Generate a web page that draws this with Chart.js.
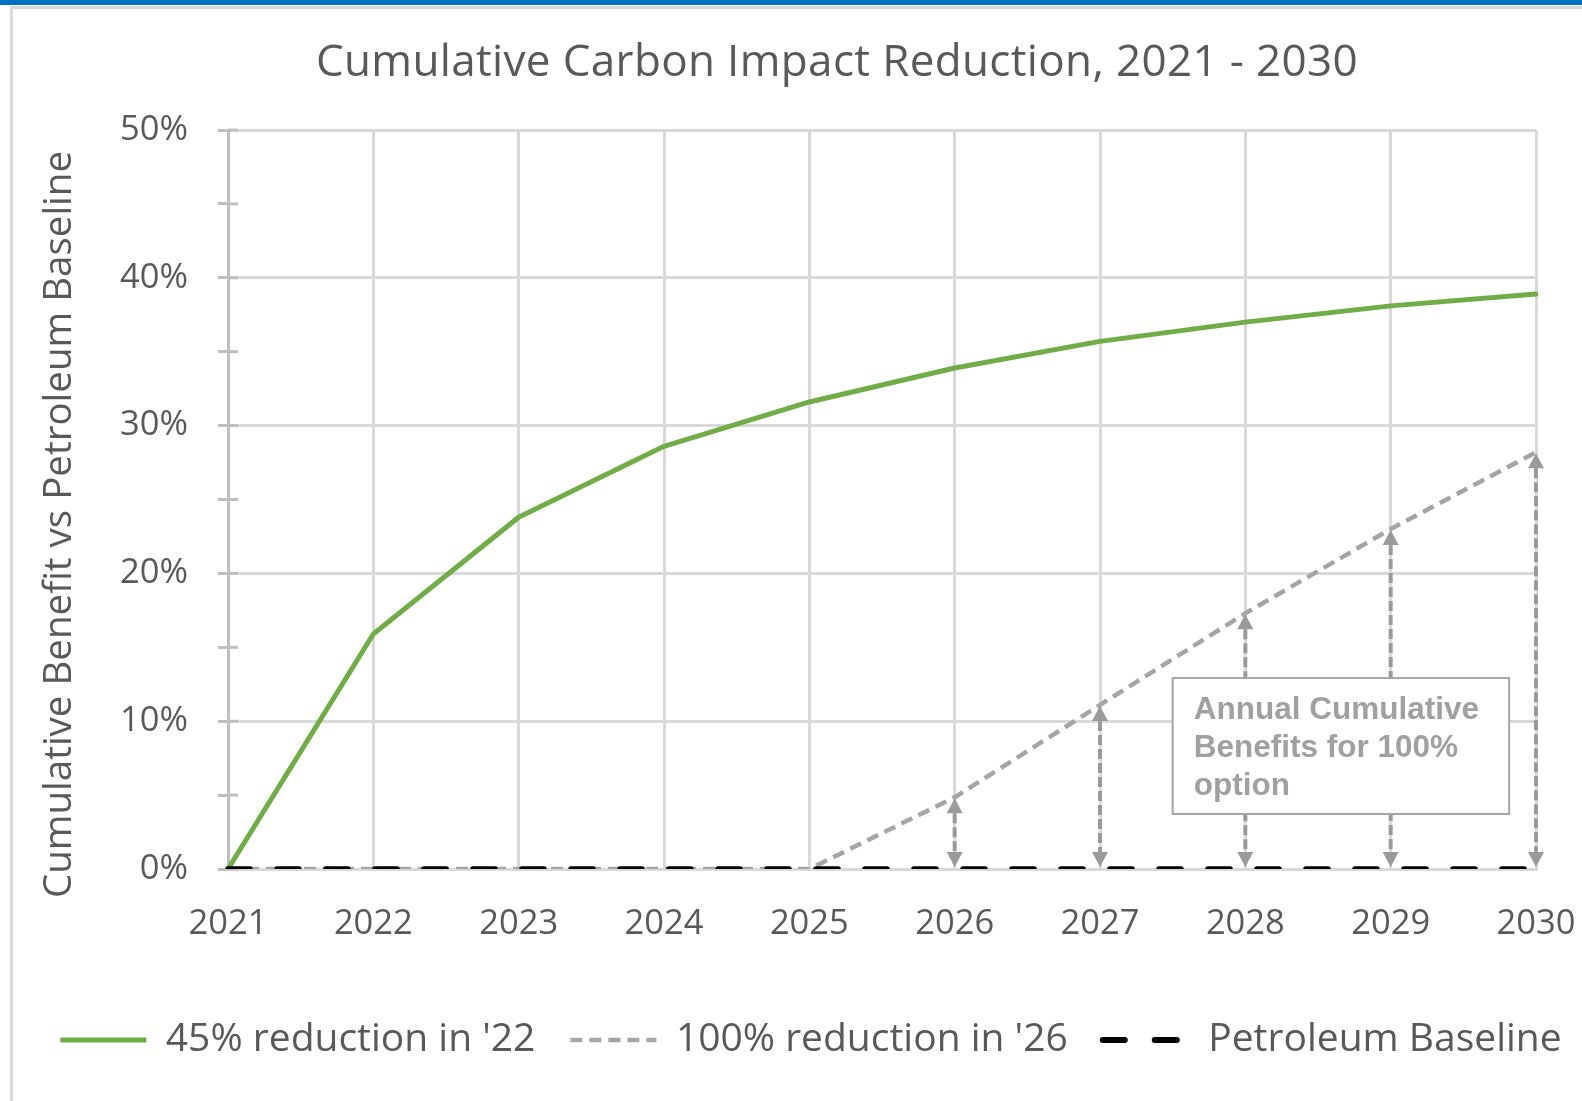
<!DOCTYPE html>
<html><head><meta charset="utf-8">
<script src="https://cdn.jsdelivr.net/npm/chart.js@4.4.1/dist/chart.umd.min.js"></script>
<style>
html,body{margin:0;padding:0;background:#fff;width:1582px;height:1101px;overflow:hidden;}
#topbar{position:absolute;left:0;top:0;width:1582px;height:5px;background:#0070C0;}
#frame{position:absolute;left:10px;top:6px;right:-10px;bottom:-10px;border-left:3px solid #d9d9d9;border-top:3px solid #d9d9d9;}
canvas{position:absolute;left:0;top:0;}
</style></head><body>
<div id="topbar"></div><div id="frame"></div>
<canvas id="c" width="1582" height="1101"></canvas>
<script>
// ---- data ----
const years = ['2021','2022','2023','2024','2025','2026','2027','2028','2029','2030'];
const reduction45 = [0, 15.9, 23.8, 28.6, 31.6, 33.9, 35.7, 37.0, 38.1, 38.9];
const reduction100 = [0, 0, 0, 0, 0, 4.85, 11.1, 17.3, 23.0, 28.2];
const petroleumBaseline = [0, 0, 0, 0, 0, 0, 0, 0, 0, 0];
const seriesNames = ["45% reduction in '22", "100% reduction in '26", "Petroleum Baseline"];
const yTickLabels = ['0%', '10%', '20%', '30%', '40%', '50%'];
const chartTitle = 'Cumulative Carbon Impact Reduction, 2021 - 2030';
const yAxisTitle = 'Cumulative Benefit vs Petroleum Baseline';
const noteLines = ['Annual Cumulative', 'Benefits for 100%', 'option'];

// ---- styles ----
const GREEN = '#70AD47', GRAY = '#A5A5A5', BLACK = '#000000', TEXT = '#595959';
const GRID = '#D9D9D9', AXIS = '#BFBFBF', ARROW = '#9A9A9A', NOTE = '#A0A0A0';
const FONT = "'Open Sans', 'DejaVu Sans', sans-serif";

function shiftBox(box, dx, spacing) {
  if (!box || box._wrapped) return;
  const orig = box.draw;
  box.draw = function () {
    const ctx = this.ctx;
    ctx.save();
    if (spacing) ctx.letterSpacing = spacing;
    ctx.translate(dx(this), 0);
    orig.apply(this, arguments);
    ctx.restore();
  };
  box._wrapped = true;
}

const boxFix = {
  id: 'boxFix',
  beforeDraw(chart) {
    shiftBox(chart.titleBlock, b => 837 - (b.left + b.right) / 2, '0.35px');
    shiftBox(chart.legend, () => 20, null);
  }
};

const innerTicks = {
  id: 'innerTicks',
  beforeDatasetsDraw(chart) {
    const ys = chart.scales.y, ctx = chart.ctx, x0 = chart.chartArea.left;
    ctx.save();
    ctx.strokeStyle = AXIS; ctx.lineWidth = 3;
    ys.ticks.forEach(t => {
      const py = ys.getPixelForValue(t.value);
      ctx.beginPath(); ctx.moveTo(x0, py); ctx.lineTo(x0 + 10, py); ctx.stroke();
    });
    ctx.restore();
  }
};

const arrowsAndNote = {
  id: 'arrowsAndNote',
  afterDatasetsDraw(chart) {
    const xs = chart.scales.x, ys = chart.scales.y, ctx = chart.ctx;
    ctx.save();
    reduction100.forEach((v, i) => {
      if (v <= 0) return;
      const px = xs.getPixelForValue(i);
      const yBot = ys.getPixelForValue(0) - 2;
      const yTop = ys.getPixelForValue(v) + 1;
      const head = 15, hw = 8;
      ctx.setLineDash([10, 4]); ctx.lineWidth = 4; ctx.strokeStyle = ARROW;
      ctx.beginPath(); ctx.moveTo(px, yTop + head); ctx.lineTo(px, yBot - head); ctx.stroke();
      ctx.setLineDash([]); ctx.fillStyle = ARROW;
      ctx.beginPath(); ctx.moveTo(px, yTop); ctx.lineTo(px - hw, yTop + head); ctx.lineTo(px + hw, yTop + head); ctx.closePath(); ctx.fill();
      ctx.beginPath(); ctx.moveTo(px, yBot); ctx.lineTo(px - hw, yBot - head); ctx.lineTo(px + hw, yBot - head); ctx.closePath(); ctx.fill();
    });
    const bx0 = xs.getPixelForValue(6.5), bx1 = xs.getPixelForValue(8.815);
    const by0 = ys.getPixelForValue(12.92), by1 = ys.getPixelForValue(3.72);
    ctx.fillStyle = '#FFFFFF';
    ctx.fillRect(bx0, by0, bx1 - bx0, by1 - by0);
    ctx.strokeStyle = '#A6A6A6'; ctx.lineWidth = 2;
    ctx.strokeRect(bx0, by0, bx1 - bx0, by1 - by0);
    ctx.font = "bold 31.5px 'Liberation Sans', Arial, sans-serif";
    ctx.fillStyle = NOTE; ctx.textAlign = 'left'; ctx.textBaseline = 'alphabetic';
    noteLines.forEach((t, k) => ctx.fillText(t, bx0 + 21, by0 + 41 + k * 38));
    ctx.restore();
  }
};

const yTitle = {
  id: 'yTitle',
  afterDraw(chart) {
    const ctx = chart.ctx, ca = chart.chartArea;
    ctx.save();
    ctx.translate(60, (ca.top + ca.bottom) / 2 + 25);
    ctx.rotate(-Math.PI / 2);
    ctx.font = "38.5px " + FONT;
    ctx.fillStyle = TEXT; ctx.textAlign = 'center'; ctx.textBaseline = 'middle';
    ctx.fillText(yAxisTitle, 0, 0);
    ctx.restore();
  }
};

new Chart(document.getElementById('c'), {
  type: 'line',
  data: {
    labels: years,
    datasets: [
      { label: seriesNames[0], data: reduction45, borderColor: GREEN, backgroundColor: GREEN, borderWidth: 5,
        borderCapStyle: 'round', borderJoinStyle: 'round', order: 2, yAxisID: 'y' },
      { label: seriesNames[1], data: reduction100, borderColor: GRAY, backgroundColor: GRAY, borderWidth: 4.5,
        borderDash: [12, 7], order: 3, yAxisID: 'y' },
      { label: seriesNames[2], data: petroleumBaseline, borderColor: BLACK, backgroundColor: BLACK, borderWidth: 5.5,
        borderDash: [22, 27], borderCapStyle: 'round', order: 1, yAxisID: 'y' }
    ]
  },
  options: {
    responsive: false, devicePixelRatio: 1, animation: false,
    elements: { point: { radius: 0, hoverRadius: 0 }, line: { tension: 0, fill: false } },
    layout: { padding: { left: 0, right: 0, top: 0, bottom: 31.5 } },
    plugins: {
      tooltip: { enabled: false },
      title: { display: true, text: chartTitle, color: TEXT, font: { family: FONT, size: 44, weight: 'normal', lineHeight: 1.2 },
        padding: { top: 37, bottom: 40.2 } },
      legend: {
        position: 'bottom',
        labels: {
          color: TEXT, font: { family: FONT, size: 39 }, padding: 35,
          usePointStyle: true, pointStyleWidth: 86, boxHeight: 10,
          generateLabels: () => [
            { text: seriesNames[0], strokeStyle: GREEN, fillStyle: GREEN, lineWidth: 5, lineDash: [], pointStyle: 'line', fontColor: TEXT, hidden: false, datasetIndex: 0 },
            { text: seriesNames[1], strokeStyle: GRAY, fillStyle: GRAY, lineWidth: 4.5, lineDash: [12, 7], pointStyle: 'line', fontColor: TEXT, hidden: false, datasetIndex: 1 },
            { text: seriesNames[2], strokeStyle: BLACK, fillStyle: BLACK, lineWidth: 6, lineDash: [22, 30], lineCap: 'round', pointStyle: 'line', fontColor: TEXT, hidden: false, datasetIndex: 2 }
          ]
        }
      }
    },
    scales: {
      x: {
        type: 'category', offset: false,
        grid: { color: GRID, lineWidth: 3, drawTicks: true, tickLength: 29, tickColor: 'rgba(0,0,0,0)' },
        border: { color: GRID, width: 3 },
        ticks: { color: TEXT, font: { family: FONT, size: 34.5 }, padding: 5, maxRotation: 0, autoSkip: false },
        afterFit(s) { s.height = 116.5; }
      },
      y: {
        type: 'linear', position: 'left', min: 0, max: 50,
        ticks: { stepSize: 5, color: TEXT, font: { family: FONT, size: 34.5 }, padding: 30,
          callback: v => (v % 10 === 0 ? yTickLabels[v / 10] : '') },
        grid: { color: c => (c.tick && c.tick.value % 10 === 0 ? GRID : 'rgba(0,0,0,0)'), lineWidth: 3,
          tickLength: 10, tickColor: AXIS, tickWidth: 3 },
        border: { color: AXIS, width: 3 },
        afterFit(s) { s.width = 228; }
      },
      yR: {
        type: 'linear', position: 'right', display: true,
        grid: { display: false }, ticks: { display: false }, border: { display: false },
        afterFit(s) { s.width = 46; }
      }
    }
  },
  plugins: [boxFix, innerTicks, arrowsAndNote, yTitle]
});
</script>
</body></html>
